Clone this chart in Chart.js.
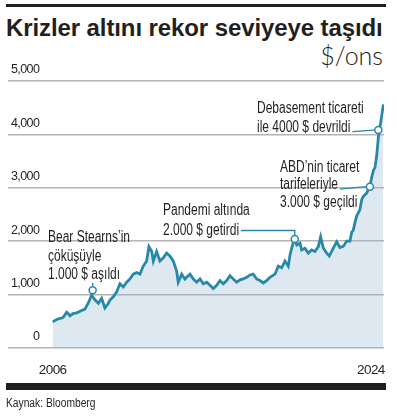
<!DOCTYPE html>
<html>
<head>
<meta charset="utf-8">
<script src="https://cdn.jsdelivr.net/npm/chart.js@4.4.1/dist/chart.umd.min.js"></script>
<style>
  body { margin: 0; background: #fff; }
  #wrap { position: relative; width: 396px; height: 418px; overflow: hidden; }
  #chart { position: absolute; left: 0; top: 0; }
  .bar { position: absolute; left: 6px; width: 380px; background: #231f20; }
  #title { position: absolute; left: 6px; top: 14px; font: bold 24px "Liberation Sans", Arial, sans-serif; color: #231f20; white-space: nowrap; letter-spacing: -0.1px; }
  #unit { position: absolute; right: 13px; top: 40px; font: 300 25px Lato, "Open Sans", sans-serif; color: #231f20; }
  #source { position: absolute; left: 6px; top: 396px; font: 12.5px "Liberation Sans", Arial, sans-serif; color: #231f20; transform: scaleX(0.82); transform-origin: 0 0; white-space: nowrap; }
</style>
</head>
<body>
<div id="wrap">
  <div class="bar" style="top:4px;height:3px"></div>
  <div id="title">Krizler altını rekor seviyeye taşıdı</div>
  <div id="unit">$/ons</div>
  <canvas id="chart" width="396" height="418"></canvas>
  <div class="bar" style="top:383px;height:7px"></div>
  <div id="source">Kaynak: Bloomberg</div>
</div>
<script>
const sans = '"Liberation Sans", Arial, sans-serif';

// gold price, $/ons (dates as decimal years)
const dates = [2005.76, 2006.00, 2006.39, 2006.62, 2006.82, 2007.00, 2007.23, 2007.53, 2007.73, 2007.93,
  2008.14, 2008.34, 2008.55, 2008.75, 2008.95, 2009.16, 2009.26, 2009.46, 2009.67, 2009.87,
  2010.07, 2010.28, 2010.48, 2010.68, 2010.89, 2011.09, 2011.29, 2011.50, 2011.64, 2011.81,
  2011.91, 2012.11, 2012.31, 2012.52, 2012.72, 2012.93, 2013.13, 2013.33, 2013.43, 2013.64,
  2013.84, 2014.04, 2014.15, 2014.35, 2014.56, 2014.76, 2014.96, 2015.17, 2015.37, 2015.57,
  2015.78, 2015.98, 2016.18, 2016.39, 2016.59, 2016.79, 2017.00, 2017.20, 2017.40, 2017.61,
  2017.81, 2018.01, 2018.22, 2018.42, 2018.63, 2018.83, 2019.03, 2019.34, 2019.54, 2019.75,
  2019.95, 2020.15, 2020.26, 2020.36, 2020.52, 2020.67, 2020.87, 2020.97, 2021.17, 2021.37,
  2021.58, 2021.78, 2021.99, 2022.13, 2022.29, 2022.50, 2022.66, 2022.90, 2023.11, 2023.31,
  2023.51, 2023.72, 2023.92, 2024.03, 2024.12, 2024.23, 2024.33, 2024.53, 2024.64, 2024.73,
  2024.94, 2025.14, 2025.25, 2025.35, 2025.45, 2025.55, 2025.65, 2025.71, 2025.80, 2025.86,
  2025.92, 2025.96];
const prices = [485, 530, 565, 665, 600, 640, 655, 700, 725, 835,
  985, 900, 835, 925, 745, 835, 895, 955, 1050, 1200,
  1140, 1230, 1290, 1380, 1410, 1380, 1530, 1625, 1895, 1805,
  1625, 1805, 1625, 1685, 1775, 1715, 1625, 1440, 1230, 1380,
  1290, 1350, 1380, 1290, 1230, 1290, 1200, 1230, 1170, 1110,
  1170, 1260, 1200, 1260, 1350, 1290, 1230, 1275, 1290, 1320,
  1365, 1380, 1290, 1260, 1215, 1260, 1320, 1380, 1530, 1500,
  1625, 1530, 1745, 1865, 2050, 1925, 1960, 1835, 1865, 1775,
  1835, 1805, 1895, 2080, 1870, 1775, 1720, 1867, 1987, 1880,
  1900, 2000, 2000, 2169, 2200, 2350, 2470, 2590, 2775, 2836,
  2900, 3018, 3200, 3320, 3380, 3594, 3927, 4078, 4229, 4351,
  4472, 4560];

const yTicks = [0, 1000, 2000, 3000, 4000, 5000];
const xTickLabels = ['2006', '2024'];
const xTickAt = [2005.76, 2025.2];

// annotated events
const eventDates = [2008.2, 2020.55, 2025.14, 2025.65];
const eventValues = [1080, 2040, 3020, 4080];
const eventTexts = [
  ['Bear Stearns’in', 'çöküşüyle', '1.000 $ aşıldı'],
  ['Pandemi altında', '2.000 $ getirdi'],
  ['ABD’nin ticaret', 'tarifeleriyle', '3.000 $ geçildi'],
  ['Debasement ticareti', 'ile 4000 $ devrildi']
];
// text placement (px) and leader style
const eventLayout = [
  { x: 48, y: 242, lh: 18.5, leader: 'up', stopY: 283 },
  { x: 163, y: 214.5, lh: 20, leader: 'elbow', lineIdx: 1 },
  { x: 280, y: 171.5, lh: 17.6, leader: 'side', lineIdx: 1 },
  { x: 257, y: 113.3, lh: 18.4, leader: 'side', lineIdx: 1 }
];

const teal = '#2888a8';
const squeeze = 0.75; // the original uses a condensed face

const annotations = {
  id: 'annotations',
  beforeDraw(chart) {
    chart.ctx.letterSpacing = '-0.6px';
  },
  afterDatasetsDraw(chart) {
    const { ctx, scales: { x, y } } = chart;
    ctx.save();
    ctx.letterSpacing = '0px';
    ctx.font = '16px ' + sans;
    ctx.fillStyle = '#231f20';
    ctx.textBaseline = 'alphabetic';
    eventTexts.forEach((lines, i) => {
      const l = eventLayout[i];
      ctx.save();
      ctx.translate(l.x, 0);
      ctx.scale(squeeze, 1);
      lines.forEach((t, j) => ctx.fillText(t, 0, l.y + j * l.lh));
      ctx.restore();
      const cx = x.getPixelForValue(eventDates[i]);
      const cy = y.getPixelForValue(eventValues[i]);
      ctx.strokeStyle = teal;
      ctx.lineWidth = 1.3;
      ctx.beginPath();
      if (l.leader === 'up') {
        ctx.moveTo(cx, cy - 4);
        ctx.lineTo(cx, l.stopY);
      } else {
        const by = l.y + l.lineIdx * l.lh;
        const ex = l.x + ctx.measureText(lines[l.lineIdx]).width * squeeze + 2;
        if (l.leader === 'elbow') {
          ctx.moveTo(ex, by - 4);
          ctx.lineTo(cx, by - 4);
          ctx.lineTo(cx, cy - 4);
        } else {
          ctx.moveTo(ex, by);
          ctx.lineTo(cx - 4, cy);
        }
      }
      ctx.stroke();
    });
    ctx.restore();
  },
  afterDraw(chart) {
    chart.ctx.letterSpacing = '0px';
  }
};

new Chart(document.getElementById('chart'), {
  type: 'line',
  data: {
    datasets: [
      {
        data: eventDates.map((d, i) => ({ x: d, y: eventValues[i] })),
        showLine: false,
        pointRadius: 3.5,
        pointBackgroundColor: '#fff',
        pointBorderColor: teal,
        pointBorderWidth: 1.5
      },
      {
        data: dates.map((d, i) => ({ x: d, y: prices[i] })),
        borderColor: teal,
        borderWidth: 2.8,
        pointRadius: 0,
        tension: 0,
        fill: 'origin',
        backgroundColor: 'rgba(150,182,208,0.32)'
      }
    ]
  },
  options: {
    responsive: false,
    animation: false,
    devicePixelRatio: 1,
    layout: { padding: { left: 8, right: 12, top: 81, bottom: 34 } },
    plugins: { legend: { display: false }, tooltip: { enabled: false } },
    scales: {
      x: {
        type: 'linear',
        min: 2003.03,
        max: 2026.0,
        grid: { display: false },
        border: { display: false },
        afterBuildTicks: s => { s.ticks = xTickAt.map(v => ({ value: v })); },
        ticks: {
          padding: 6,
          maxRotation: 0,
          autoSkip: false,
          color: '#231f20',
          font: { family: sans, size: 13.5 },
          callback: (v, i) => xTickLabels[i]
        }
      },
      y: {
        min: 0,
        max: 5000,
        afterBuildTicks: s => { s.ticks = yTicks.map(v => ({ value: v })); },
        grid: { color: '#b4b4b4', lineWidth: 1.5, drawTicks: false },
        border: { display: false },
        ticks: {
          mirror: true,
          crossAlign: 'far',
          padding: 0,
          labelOffset: -11,
          color: '#231f20',
          font: { family: sans, size: 12.5 },
          callback: v => v.toLocaleString('en-US')
        }
      }
    }
  },
  plugins: [annotations]
});
</script>
</body>
</html>
